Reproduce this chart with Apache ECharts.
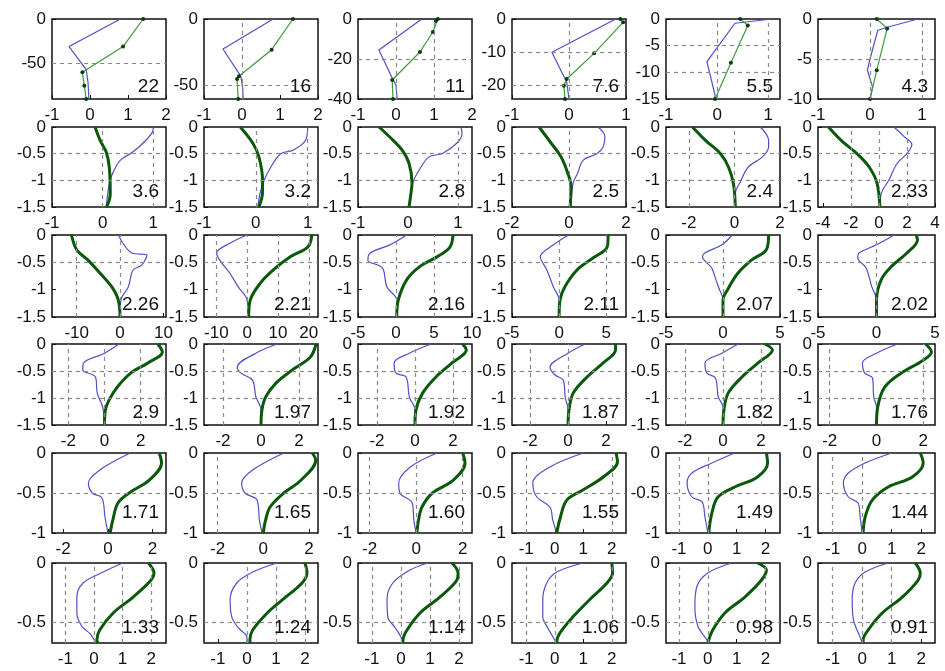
<!DOCTYPE html>
<html><head><meta charset="utf-8">
<script src="https://cdn.jsdelivr.net/npm/echarts@6/dist/echarts.min.js"></script>
<style>html,body{margin:0;padding:0;background:#fff}#c{width:945px;height:671px}</style>
</head><body><div id="c"></div>
<script>
// ---------- DATA ----------
const panelLabels = ['22','16','11','7.6','5.5','4.3','3.6','3.2','2.8','2.5','2.4','2.33',
  '2.26','2.21','2.16','2.11','2.07','2.02','2.9','1.97','1.92','1.87','1.82','1.76',
  '1.71','1.65','1.60','1.55','1.49','1.44','1.33','1.24','1.14','1.06','0.98','0.91'];

const xMin = [-1,-1,-1,-1,-1,-1, -1,-1,-1,-2,-3,-4.35, -15.7,-14,-5,-5,-5,-5,
  -2.9,-3,-3,-2.95,-3,-2.5, -2.5,-2.6,-2.5,-1.5,-1.45,-1.5, -1.47,-1.48,-1.48,-1.5,-1.45,-1.5];
const xMax = [2,2,2,1,1.23,1.25, 1.25,1.2,1.28,2,2,4, 10.6,23,10,7.1,5,5,
  3.4,3,3,3.05,3,2.5, 2.6,2.4,2.4,2.5,2.5,2.47, 2.52,2.45,2.45,2.5,2.5,2.47];
const yMin = [-90,-60,-40,-24,-15,-10, -1.5,-1.5,-1.5,-1.5,-1.5,-1.5, -1.5,-1.5,-1.5,-1.5,-1.5,-1.5,
  -1.5,-1.5,-1.5,-1.5,-1.5,-1.5, -1,-1,-1,-1,-1,-1, -0.68,-0.68,-0.68,-0.68,-0.68,-0.68];

const xTicks = [[-1,0,1,2],[-1,0,1,2],[-1,0,1,2],[-1,0,1],[-1,0,1],[-1,0,1],
  [-1,0,1],[-1,0,1],[-1,0,1],[-2,0,2],[-2,0,2],[-4,-2,0,2,4],
  [-10,0,10],[-10,0,10,20],[-5,0,5,10],[-5,0,5],[-5,0,5],[-5,0,5],
  [-2,0,2],[-2,0,2],[-2,0,2],[-2,0,2],[-2,0,2],[-2,0,2],
  [-2,0,2],[-2,0,2],[-2,0,2],[-1,0,1,2],[-1,0,1,2],[-1,0,1,2],
  [-1,0,1,2],[-1,0,1,2],[-1,0,1,2],[-1,0,1,2],[-1,0,1,2],[-1,0,1,2]];
const yTicksRow1 = [[0,-50],[0,-50],[0,-20,-40],[0,-10,-20],[0,-5,-10,-15],[0,-5,-10]];
const yTicksRows234 = [0,-0.5,-1,-1.5];
const yTicksRow5 = [0,-0.5,-1];
const yTicksRow6 = [0,-0.5];

const gridX = [[],[0],[0,1],[0],[0,1],[0,1],
  [0,1],[0,1],[1],[0],[-2,0],[-2,0,2],
  [-10,0],[-10,0,10,20],[0,5],[0,5],[0],[0],
  [-2,0,2],[-2,2],[-2,0,2],[-2,0],[-2,0,2],[-2,2],
  [],[-2],[-2,0,2],[-1,2],[-1,0],[-1,0],
  [-1,0,1,2],[0,1,2],[-1,0,1,2],[-1,0,2],[-1,0,2],[-1,0,1]];
const gridY = [[-50],[-50],[-20],[-10,-20],[-5,-10],[-5],
  [-0.5,-1],[-0.5,-1],[-0.5,-1],[-0.5,-1],[-0.5,-1],[-0.5,-1],
  [-0.5],[-0.5],[-0.5],[-0.5],[-0.5],[-0.5],
  [-0.5,-1],[-0.5,-1],[-0.5,-1],[-0.5,-1],[-0.5,-1],[-0.5,-1],
  [-0.5],[-0.5],[-0.5],[-0.5],[-0.5],[-0.5],
  [-0.5],[-0.5],[-0.5],[-0.5],[-0.5],[-0.5]];

// blue curves [x, depth]
const blueRow1 = [
  [[0.8,0],[-0.55,-31],[-0.1,-57],[-0.05,-72],[-0.03,-90]],
  [[0.82,0],[-0.5,-22.5],[-0.03,-43],[0.02,-52],[0.03,-60]],
  [[0.68,0],[-0.45,-15.5],[-0.1,-29.5],[0.0,-33],[0.03,-40]],
  [[0.82,0],[-0.3,-10],[-0.04,-19],[0,-24]],
  [[1.08,0],[0.35,-0.8],[-0.2,-8],[-0.04,-14.3],[-0.05,-15]],
  [[0.92,0],[0.35,-1],[0.15,-1.4],[0,-5],[-0.05,-6.4],[0.05,-8.5],[0,-10]]];
const blueRow2 = [
  [[1.0,0],[0.98,-0.1],[0.8,-0.3],[0.58,-0.48],[0.35,-0.62],[0.2,-0.86],[0.14,-1.03],[0.1,-1.25],[0.07,-1.5]],
  [[1.0,0],[0.96,-0.25],[0.73,-0.43],[0.48,-0.5],[0.29,-0.75],[0.16,-1.0],[0.08,-1.25],[0.04,-1.5]],
  [[1.06,0],[1.08,-0.12],[0.98,-0.3],[0.68,-0.5],[0.42,-0.56],[0.22,-0.81],[0.1,-1.03],[0.06,-1.24],[0.02,-1.5]],
  [[1.02,0],[1.26,-0.18],[1.2,-0.37],[0.98,-0.5],[0.5,-0.62],[0.3,-0.87],[0.14,-1.06],[0.07,-1.5]],
  [[1.14,0],[1.5,-0.25],[1.5,-0.37],[1.23,-0.56],[0.61,-0.75],[0.26,-1.03],[0.04,-1.25],[0.04,-1.5]],
  [[1.07,0],[1.8,-0.18],[2.35,-0.33],[2.0,-0.5],[1.3,-0.68],[0.7,-1.0],[0.2,-1.22],[0.07,-1.5]]];
const blueRow3 = [
  [[-0.4,0],[2.7,-0.33],[6.2,-0.37],[5.0,-0.55],[3.0,-0.64],[1.9,-0.95],[0.2,-1.19],[0,-1.5]],
  [[0,0],[-5.6,-0.15],[-9.9,-0.33],[-8.9,-0.46],[-5.6,-0.7],[-2.9,-0.95],[0,-1.19],[0.3,-1.5]],
  [[1.4,0],[-0.8,-0.18],[-3.4,-0.33],[-3.7,-0.46],[-1.8,-0.6],[-1.2,-0.95],[0.1,-1.19],[0.1,-1.5]],
  [[1,0],[-0.6,-0.18],[-2,-0.4],[-1.3,-0.64],[-0.6,-0.95],[0,-1.19],[0,-1.5]],
  [[0.8,0],[-0.1,-0.18],[-1.6,-0.33],[-1.8,-0.4],[-1,-0.6],[-0.7,-0.77],[-0.4,-0.95],[0,-1.19],[0,-1.5]],
  [[1.5,0],[0,-0.18],[-1.5,-0.33],[-1.6,-0.42],[-0.9,-0.6],[-0.4,-0.95],[0,-1.19],[0,-1.5]]];
const blueRow4 = [
  [[0.8,0],[0,-0.17],[-1.15,-0.35],[-1.2,-0.48],[-0.5,-0.61],[-0.4,-0.91],[-0.1,-1.17],[0,-1.5]],
  [[0.85,0],[-0.27,-0.17],[-1.25,-0.43],[-1.05,-0.54],[-0.45,-0.67],[-0.27,-0.98],[0,-1.22],[0,-1.5]],
  [[0.85,0],[-0.3,-0.17],[-1.1,-0.35],[-1.0,-0.54],[-0.47,-0.61],[-0.3,-0.98],[0,-1.22],[0,-1.5]],
  [[0.9,0],[0,-0.17],[-0.95,-0.43],[-0.7,-0.57],[-0.25,-0.67],[-0.15,-0.98],[0,-1.22],[0,-1.5]],
  [[0.8,0],[-0.05,-0.17],[-0.95,-0.35],[-0.85,-0.54],[-0.4,-0.63],[-0.25,-0.98],[0,-1.17],[0,-1.5]],
  [[0.9,0],[0,-0.17],[-0.6,-0.35],[-0.5,-0.54],[-0.17,-0.63],[-0.12,-0.98],[0,-1.17],[0,-1.5]]];
const blueRow5 = [
  [[1.0,0],[-0.35,-0.21],[-0.87,-0.375],[-0.7,-0.5],[-0.27,-0.56],[-0.13,-0.8],[0,-1]],
  [[0.9,0],[-0.45,-0.21],[-0.95,-0.375],[-0.8,-0.5],[-0.27,-0.59],[-0.17,-0.84],[-0.05,-1]],
  [[0.9,0],[-0.25,-0.175],[-0.75,-0.375],[-0.7,-0.5],[-0.17,-0.625],[-0.1,-0.84],[0,-1]],
  [[1.0,0],[-0.17,-0.175],[-0.77,-0.375],[-0.63,-0.55],[-0.17,-0.675],[-0.07,-0.84],[0.07,-1]],
  [[0.93,0],[0.14,-0.125],[-0.55,-0.25],[-0.72,-0.375],[-0.55,-0.55],[-0.2,-0.61],[-0.1,-0.8],[0,-1]],
  [[1.0,0],[0.1,-0.125],[-0.47,-0.25],[-0.64,-0.375],[-0.47,-0.55],[-0.14,-0.625],[-0.07,-0.8],[0,-1]]];
const blueRow6 = [
  [[1.0,0],[0.32,-0.077],[-0.38,-0.17],[-0.6,-0.29],[-0.6,-0.43],[-0.42,-0.54],[-0.14,-0.6],[0,-0.65],[0.05,-0.68]],
  [[1.03,0],[0.2,-0.077],[-0.35,-0.17],[-0.58,-0.31],[-0.52,-0.46],[-0.3,-0.55],[0,-0.63],[0,-0.68]],
  [[0.93,0],[0.31,-0.06],[-0.28,-0.17],[-0.48,-0.31],[-0.45,-0.46],[-0.2,-0.55],[0,-0.63],[0.03,-0.68]],
  [[1.0,0],[0.07,-0.077],[-0.28,-0.17],[-0.42,-0.31],[-0.42,-0.46],[-0.25,-0.55],[0,-0.655],[0.03,-0.68]],
  [[0.83,0],[0,-0.085],[-0.38,-0.2],[-0.45,-0.37],[-0.34,-0.54],[-0.03,-0.655],[0,-0.68]],
  [[0.88,0],[0.1,-0.077],[-0.24,-0.17],[-0.34,-0.31],[-0.3,-0.48],[-0.07,-0.63],[0,-0.68]]];

// green curves [x, depth]
const greenRow1 = [
  [[1.4,0],[0.87,-31],[-0.2,-60],[-0.15,-75],[-0.1,-90]],
  [[1.34,0],[0.78,-23],[-0.08,-43],[-0.13,-45],[-0.1,-60]],
  [[1.1,0],[1.05,-1],[0.97,-6.5],[0.63,-16.5],[-0.1,-30.5],[-0.08,-40]],
  [[0.9,0],[0.95,-1],[0.44,-10.3],[-0.04,-18],[-0.09,-20],[-0.07,-24]],
  [[0.45,0],[0.6,-1.2],[0.27,-8.2],[-0.04,-15]],
  [[0.13,0],[0.33,-1.2],[0.13,-6.4],[0,-10]]];
const greenRow2 = [
  [[-0.15,0],[-0.05,-0.25],[0.07,-0.47],[0.13,-0.75],[0.15,-1.25],[0.08,-1.5]],
  [[-0.3,0],[-0.06,-0.3],[0.06,-0.56],[0.13,-1.0],[0.13,-1.22],[0.06,-1.5]],
  [[-0.58,0],[-0.34,-0.21],[-0.12,-0.43],[0.02,-0.68],[0.08,-1.05],[0.06,-1.24],[0.02,-1.5]],
  [[-1.05,0],[-0.63,-0.3],[-0.28,-0.56],[-0.04,-0.87],[0.07,-1.12],[0.04,-1.5]],
  [[-1.84,0],[-1.27,-0.25],[-0.61,-0.5],[-0.26,-0.75],[-0.04,-1.07],[0.04,-1.5]],
  [[-3.6,0],[-2.7,-0.25],[-1.57,-0.5],[-0.7,-0.75],[-0.14,-1.05],[0.07,-1.5]]];
const greenRow3 = [
  [[-11.2,0],[-10,-0.27],[-7.4,-0.46],[-4.6,-0.7],[-1.9,-0.95],[-0.4,-1.19],[0,-1.5]],
  [[21,0],[19.7,-0.22],[14,-0.4],[8.5,-0.64],[4.3,-0.88],[1,-1.19],[0.5,-1.5]],
  [[7.5,0],[7.1,-0.22],[5.4,-0.4],[3.2,-0.57],[1.4,-0.82],[0.3,-1.19],[0.1,-1.5]],
  [[5.2,0],[5.1,-0.22],[3.6,-0.42],[1.9,-0.64],[0.6,-0.95],[0.1,-1.19],[0,-1.5]],
  [[4,0],[3.8,-0.27],[2.5,-0.46],[1.3,-0.7],[0.4,-1.0],[0,-1.19],[0,-1.5]],
  [[3.4,0],[3.5,-0.09],[2.6,-0.33],[1.3,-0.57],[0.4,-0.82],[0,-1.19],[0,-1.5]]];
const greenRow4 = [
  [[2.95,0],[3.2,-0.15],[2.4,-0.35],[1.45,-0.54],[0.7,-0.8],[0.25,-1.04],[0.05,-1.22],[0,-1.5]],
  [[2.9,0],[2.6,-0.24],[1.65,-0.48],[0.8,-0.72],[0.25,-0.98],[0.05,-1.22],[0,-1.5]],
  [[2.5,0],[2.7,-0.11],[1.95,-0.35],[1.1,-0.61],[0.4,-0.91],[0.05,-1.22],[0,-1.5]],
  [[2.5,0],[2.5,-0.11],[1.85,-0.35],[1.0,-0.61],[0.27,-0.91],[0.05,-1.22],[0,-1.5]],
  [[2.2,0],[2.6,-0.11],[1.85,-0.35],[1.0,-0.61],[0.27,-0.91],[0.05,-1.22],[0,-1.5]],
  [[2.1,0],[2.35,-0.15],[2.0,-0.3],[1.05,-0.54],[0.35,-0.8],[0.05,-1.17],[0,-1.5]]];
const greenRow5 = [
  [[2.3,0],[2.4,-0.125],[1.85,-0.34],[1.0,-0.49],[0.45,-0.625],[0.22,-0.84],[0.1,-1]],
  [[2.15,0],[2.3,-0.09],[1.65,-0.34],[0.9,-0.5],[0.3,-0.675],[0.1,-0.84],[0,-1]],
  [[2.0,0],[2.1,-0.125],[1.6,-0.34],[0.7,-0.5],[0.25,-0.675],[0.1,-0.84],[0.03,-1]],
  [[2.15,0],[2.2,-0.11],[1.7,-0.3],[1.0,-0.46],[0.42,-0.59],[0.17,-0.84],[0.07,-1]],
  [[2.03,0],[2.07,-0.125],[1.72,-0.3],[0.93,-0.425],[0.35,-0.55],[0.14,-0.75],[0.03,-1]],
  [[1.97,0],[2.07,-0.125],[1.7,-0.3],[0.88,-0.425],[0.34,-0.59],[0.1,-0.8],[0.03,-1]]];
const greenRow6 = [
  [[1.9,0],[2.1,-0.085],[2.0,-0.145],[1.37,-0.29],[0.67,-0.425],[0.2,-0.57],[0.1,-0.655],[0.14,-0.68]],
  [[2.0,0],[2.07,-0.085],[1.9,-0.17],[1.24,-0.31],[0.7,-0.425],[0.2,-0.57],[0.1,-0.655],[0.12,-0.68]],
  [[1.76,0],[1.97,-0.085],[1.93,-0.145],[1.34,-0.29],[0.66,-0.425],[0.21,-0.57],[0.07,-0.655],[0.07,-0.68]],
  [[2.0,0],[2.03,-0.085],[1.83,-0.17],[1.23,-0.31],[0.63,-0.46],[0.18,-0.595],[0.07,-0.67],[0.07,-0.68]],
  [[1.72,0],[2.03,-0.06],[1.86,-0.145],[1.28,-0.29],[0.59,-0.425],[0.17,-0.57],[0,-0.68]],
  [[1.8,0],[1.97,-0.085],[1.9,-0.145],[1.36,-0.29],[0.68,-0.425],[0.2,-0.57],[0.03,-0.655],[0.03,-0.68]]];

// ---------- LAYOUT ----------
const colLeft = [52,204,358,512,666,818];
const colWidth = [114,114,114,114,114,117];
const rowTop = [19,127,235,344,453,563];
const rowHeight = [80,80,82,81,80,80];
const labelLift = [12,15,12,12,20,15];
const FONT = '"Liberation Sans", Arial, sans-serif';

const blueAll = [].concat(blueRow1, blueRow2, blueRow3, blueRow4, blueRow5, blueRow6);
const greenAll = [].concat(greenRow1, greenRow2, greenRow3, greenRow4, greenRow5, greenRow6);
function yTicksFor(i) {
  const r = Math.floor(i / 6);
  if (r === 0) return yTicksRow1[i];
  if (r <= 3) return yTicksRows234;
  if (r === 4) return yTicksRow5;
  return yTicksRow6;
}

const grids = [], xAxes = [], yAxes = [], series = [], graphics = [];
for (let i = 0; i < 36; i++) {
  const r = Math.floor(i / 6), c = i % 6;
  grids.push({left: colLeft[c], top: rowTop[r], width: colWidth[c], height: rowHeight[r],
    show: true, borderColor: '#111', borderWidth: 1.5, backgroundColor: '#fff'});
  const xt = xTicks[i], yt = yTicksFor(i);
  xAxes.push({gridIndex: i, type: 'value', min: xMin[i], max: xMax[i], position: 'bottom',
    axisLine: {show: false, onZero: false},
    axisTick: {show: true, inside: true, length: 4, customValues: xt, lineStyle: {color: '#111'}},
    axisLabel: {customValues: xt, margin: 8, fontSize: 17, color: '#111', fontFamily: FONT},
    splitLine: {show: false}});
  yAxes.push({gridIndex: i, type: 'value', min: yMin[i], max: 0, position: 'left',
    axisLine: {show: false, onZero: false},
    axisTick: {show: true, inside: true, length: 4, customValues: yt, lineStyle: {color: '#111'}},
    axisLabel: {customValues: yt, margin: 6, fontSize: 17, color: '#111', fontFamily: FONT},
    splitLine: {show: false}});
  const ml = gridX[i].map(v => ({xAxis: v})).concat(gridY[i].map(v => ({yAxis: v})));
  series.push({type: 'line', xAxisIndex: i, yAxisIndex: i, data: blueAll[i],
    smooth: r === 0 ? false : 0.35, symbol: 'none', z: 3,
    lineStyle: {color: '#4f4fc8', width: 1.2},
    markLine: {silent: true, symbol: ['none', 'none'], label: {show: false}, animation: false,
      lineStyle: {color: '#8a8a8a', type: [4, 4], width: 1.2}, data: ml}});
  if (r === 0) {
    series.push({type: 'line', xAxisIndex: i, yAxisIndex: i, data: greenAll[i], z: 4,
      symbol: 'circle', symbolSize: 4, itemStyle: {color: '#0b3d0b'},
      lineStyle: {color: '#3c9a3c', width: 1.2}});
  } else {
    series.push({type: 'line', xAxisIndex: i, yAxisIndex: i, data: greenAll[i], z: 4,
      smooth: 0.35, symbol: 'none',
      lineStyle: {color: '#0a580a', width: 3}});
  }
  graphics.push({type: 'text', z: 10,
    x: colLeft[c] + colWidth[c] - 7, y: rowTop[r] + rowHeight[r] - labelLift[r],
    style: {text: panelLabels[i], fill: '#111', font: '19px ' + FONT,
      textAlign: 'right', textVerticalAlign: 'middle'}});
}

const chart = echarts.init(document.getElementById('c'), null, {renderer: 'canvas'});
chart.setOption({animation: false, backgroundColor: '#fff',
  grid: grids, xAxis: xAxes, yAxis: yAxes, series: series, graphic: graphics});
</script></body></html>
